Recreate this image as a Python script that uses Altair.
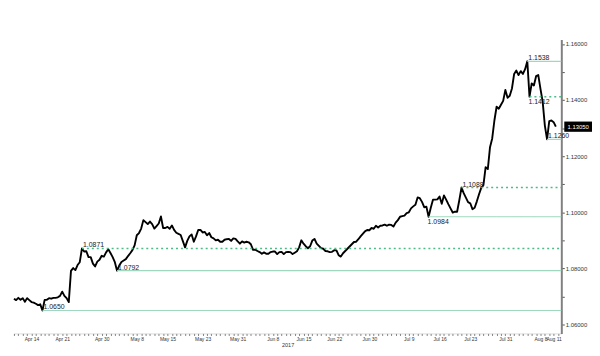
import json
import altair as alt
import pandas as pd

# ---- data ----
START = "2017-04-10 00:00"
STEP = "12h"
prices = [
    1.0692, 1.0687, 1.0695, 1.0688, 1.0694, 1.0681, 1.0694, 1.0687, 1.0680, 1.0678,
    1.0674, 1.0669, 1.0672, 1.0650, 1.0688, 1.0688, 1.0694, 1.0692, 1.0695, 1.0695,
    1.0697, 1.0702, 1.0717, 1.0702, 1.0694, 1.0680, 1.0791, 1.0801, 1.0794, 1.0812,
    1.0822, 1.0871, 1.0860, 1.0861, 1.0840, 1.0840, 1.0817, 1.0807, 1.0824, 1.0831,
    1.0845, 1.0842, 1.0857, 1.0868, 1.0855, 1.0840, 1.0822, 1.0792, 1.0810, 1.0823,
    1.0828, 1.0833, 1.0844, 1.0854, 1.0865, 1.0882, 1.0918, 1.0926, 1.0942, 1.0972,
    1.0965, 1.0958, 1.0967, 1.0958, 1.0942, 1.0951, 1.0960, 1.0985, 1.0944, 1.0944,
    1.0948, 1.0941, 1.0953, 1.0937, 1.0927, 1.0923, 1.0919, 1.0897, 1.0875, 1.0898,
    1.0914, 1.0921, 1.0895, 1.0914, 1.0937, 1.0937, 1.0928, 1.0930, 1.0918, 1.0926,
    1.0911, 1.0907, 1.0900, 1.0902, 1.0895, 1.0895, 1.0902, 1.0904, 1.0905, 1.0898,
    1.0907, 1.0905, 1.0896, 1.0888, 1.0896, 1.0892, 1.0895, 1.0893, 1.0886, 1.0866,
    1.0867, 1.0862, 1.0858, 1.0852, 1.0857, 1.0852, 1.0852, 1.0858, 1.0860, 1.0860,
    1.0851, 1.0858, 1.0859, 1.0851, 1.0858, 1.0859, 1.0858, 1.0851, 1.0856, 1.0861,
    1.0875, 1.0900, 1.0888, 1.0879, 1.0872, 1.0879, 1.0899, 1.0905, 1.0888, 1.0880,
    1.0872, 1.0870, 1.0862, 1.0861, 1.0858, 1.0859, 1.0865, 1.0864, 1.0847, 1.0842,
    1.0854, 1.0862, 1.0870, 1.0878, 1.0886, 1.0894, 1.0895, 1.0904, 1.0914, 1.0923,
    1.0932, 1.0937, 1.0936, 1.0944, 1.0941, 1.0952, 1.0946, 1.0952, 1.0953, 1.0956,
    1.0952, 1.0956, 1.0955, 1.0949, 1.0963, 1.0972, 1.0984, 1.0986, 1.0988, 1.0997,
    1.1000, 1.1014, 1.1021, 1.1027, 1.1053, 1.1050, 1.1037, 1.1018, 1.1020, 1.0984,
    1.1016, 1.1045, 1.1045, 1.1046, 1.1056, 1.1030, 1.1060, 1.1045, 1.1029, 1.1014,
    1.0999, 1.1002, 1.1002, 1.1043, 1.1088, 1.1068, 1.1052, 1.1036, 1.1032, 1.1011,
    1.1016, 1.1039, 1.1064, 1.1087, 1.1097, 1.1161, 1.1154, 1.1232, 1.1263, 1.1327,
    1.1376, 1.1369, 1.1383, 1.1397, 1.1436, 1.1408, 1.1415, 1.1441, 1.1493, 1.1505,
    1.1489, 1.1503, 1.1493, 1.1510, 1.1538, 1.1412, 1.1459, 1.1452, 1.1485, 1.1489,
    1.1440, 1.1394, 1.1309, 1.1260, 1.1325, 1.1327, 1.1321, 1.1305,
]

level_values = [1.0650, 1.0792, 1.0871, 1.0984, 1.1088, 1.1412, 1.1538, 1.1260]
level_dates = ["2017-04-16 12:00", "2017-05-03 12:00", "2017-04-25 12:00",
               "2017-07-13 12:00", "2017-07-21 00:00", "2017-08-05 12:00",
               "2017-08-05 00:00", "2017-08-09 12:00"]
level_styles = ["solid", "solid", "dashed", "solid", "dashed", "dashed", "solid", "solid"]
level_label_pos = ["above", "above", "above", "below", "above", "below", "above", "above"]

x_labels = ["Apr 14", "Apr 21", "Apr 30", "May 8", "May 15", "May 23", "May 31",
            "Jun 8", "Jun 15", "Jun 22", "Jun 30", "Jul 9", "Jul 16", "Jul 23",
            "Jul 31", "Aug 8", "Aug 11"]
y_ticks = [1.06, 1.07, 1.08, 1.09, 1.10, 1.11, 1.12, 1.13, 1.14, 1.15, 1.16]
last_value = [1.1305]
x_title = "2017"

# ---- tables ----
series = pd.DataFrame({
    "date": pd.date_range(START, periods=len(prices), freq=STEP),
    "price": prices,
})
levels = pd.DataFrame({
    "date": pd.to_datetime(level_dates),
    "price": level_values,
    "style": level_styles,
    "pos": level_label_pos,
    "label": [f"{v:.4f}" for v in level_values],
})
last_df = pd.DataFrame({"price": last_value, "label": [f"{v:.5f}" for v in last_value]})

W, H = 553, 297
FONT = "Liberation Sans"

x_scale = alt.Scale(domain=[alt.DateTime(year=2017, month=4, date=10, hours=0),
                            alt.DateTime(year=2017, month=8, date=12, hours=18)])
y_scale = alt.Scale(domain=[1.05683, 1.16159], zero=False, nice=False)

xl = json.dumps(x_labels)
x_axis = alt.Axis(
    tickCount={"interval": "day", "step": 1},
    labelExpr=f"indexof({xl}, timeFormat(datum.value, '%b %-d')) >= 0 ? timeFormat(datum.value, '%b %-d') : ''",
    labelOverlap=False, labelFlush=False, grid=False,
    tickSize=2, tickColor="#777777", domainColor="#bbbbbb", domainWidth=0.5,
    labelFontSize=5, labelPadding=1, labelColor="#333333", labelFont=FONT,
    titleFontSize=5.5, titlePadding=1, titleFontWeight="normal", titleColor="#333333",
    titleFont=FONT,
)
y_axis = alt.Axis(
    orient="right", values=y_ticks,
    labelExpr="round(datum.value*100) % 2 == 0 ? format(datum.value, '.5f') : ''",
    grid=False, tickSize=3, tickColor="#555555", domainColor="#808080", domainWidth=2,
    labelFontSize=6, labelPadding=1, labelColor="#333333", labelFont=FONT,
)

X = alt.X("date:T", scale=x_scale, axis=x_axis, title=x_title)
Y = alt.Y("price:Q", scale=y_scale, axis=y_axis, title=None)

line = alt.Chart(series).mark_line(color="black", strokeWidth=1.9, strokeJoin="round").encode(
    x=X, y=Y,
)

rules = alt.Chart(levels).mark_rule().encode(
    x=X,
    x2=alt.value(W),
    y=Y,
    color=alt.Color("style:N", scale=alt.Scale(domain=["solid", "dashed"],
                                               range=["#9fd8be", "#4dbb87"]), legend=None),
    strokeDash=alt.StrokeDash("style:N", scale=alt.Scale(domain=["solid", "dashed"],
                                                         range=[[1, 0], [2, 3]]), legend=None),
    strokeWidth=alt.StrokeWidth("style:N", scale=alt.Scale(domain=["solid", "dashed"],
                                                           range=[1.2, 1.5]), legend=None),
)

text_above = alt.Chart(levels).transform_filter("datum.pos == 'above'").mark_text(
    align="left", baseline="bottom", dx=1, dy=0, fontSize=7, font=FONT, color="#222222"
).encode(x=X, y=Y, text="label:N")

text_below = alt.Chart(levels).transform_filter("datum.pos == 'below'").mark_text(
    align="left", baseline="top", dx=-1, dy=1, fontSize=7, font=FONT, color="#222222"
).encode(x=X, y=Y, text="label:N")

box = alt.Chart(last_df).mark_point(
    shape="M-1,-0.37L1,-0.37L1,0.37L-1,0.37Z", filled=True, color="black",
    opacity=1, size=784, strokeWidth=0,
).encode(x=alt.value(W + 17), y=Y)

box_text = alt.Chart(last_df).mark_text(
    align="center", baseline="middle", fontSize=6, font=FONT, color="white"
).encode(x=alt.value(W + 17), y=Y, text="label:N")

chart = alt.layer(line, rules, text_above, text_below, box, box_text).properties(
    width=W, height=H,
    padding={"left": 5, "top": 30, "right": 0, "bottom": 0},
    background="white",
).configure_view(stroke=None)

chart.save("out.html", embed_options={"renderer": "svg", "actions": False})
